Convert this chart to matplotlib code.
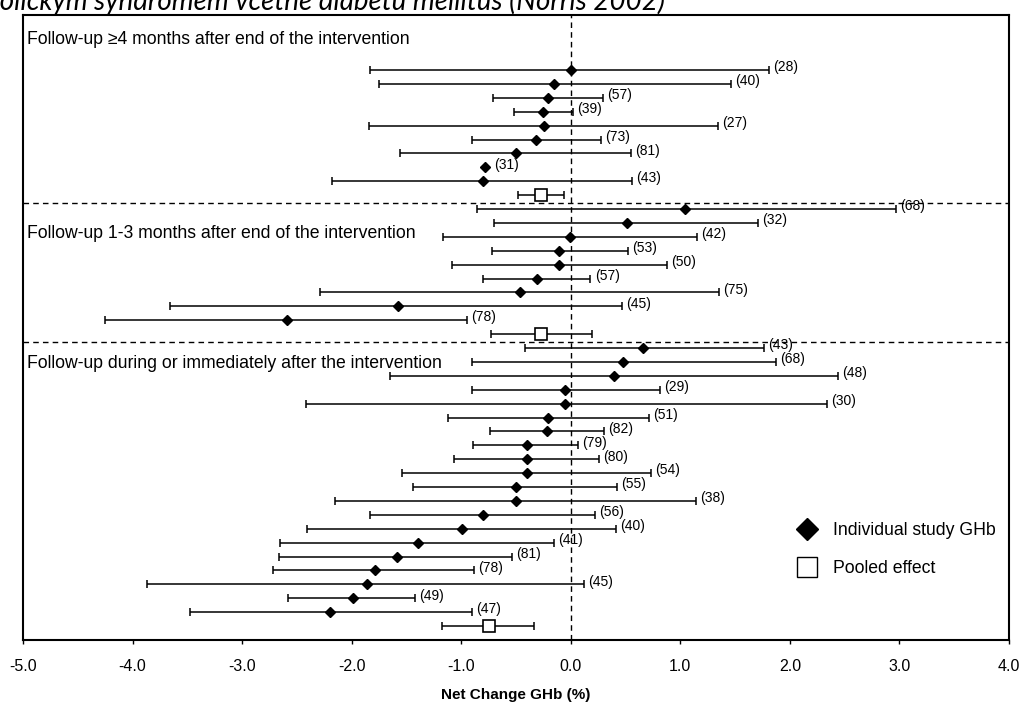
import matplotlib
matplotlib.use("Agg")
import matplotlib.pyplot as plt
from matplotlib.lines import Line2D

plt.rcParams["font.family"] = ["Liberation Sans", "DejaVu Sans"]

# --- Follow-up >= 4 months after end of the intervention ---
late_n = ["(28)", "(40)", "(57)", "(39)", "(27)", "(73)", "(81)", "(31)", "(43)"]
late_mean = [0.00, -0.15, -0.21, -0.25, -0.24, -0.32, -0.50, -0.78, -0.80]
late_low = [-1.83, -1.75, -0.71, -0.52, -1.84, -0.90, -1.56, -0.78, -2.18]
late_high = [1.81, 1.46, 0.29, 0.02, 1.34, 0.28, 0.55, -0.78, 0.56]
late_pooled = (-0.27, -0.48, -0.06)

# --- Follow-up 1-3 months after end of the intervention ---
mid_n = ["(68)", "(32)", "(42)", "(53)", "(50)", "(57)", "(75)", "(45)", "(78)"]
mid_mean = [1.04, 0.51, -0.01, -0.11, -0.11, -0.31, -0.46, -1.58, -2.59]
mid_low = [-0.86, -0.70, -1.17, -0.72, -1.08, -0.80, -2.29, -3.66, -4.25]
mid_high = [2.97, 1.71, 1.15, 0.52, 0.88, 0.18, 1.35, 0.47, -0.95]
mid_pooled = (-0.27, -0.73, 0.19)

# --- Follow-up during or immediately after the intervention ---
early_n = ["(43)", "(68)", "(48)", "(29)", "(30)", "(51)", "(82)", "(79)", "(80)", "(54)",
           "(55)", "(38)", "(56)", "(40)", "(41)", "(81)", "(78)", "(45)", "(49)", "(47)"]
early_mean = [0.66, 0.48, 0.39, -0.05, -0.05, -0.21, -0.22, -0.40, -0.40, -0.40,
              -0.50, -0.50, -0.80, -0.99, -1.39, -1.59, -1.79, -1.86, -1.99, -2.20]
early_low = [-0.42, -0.90, -1.65, -0.90, -2.42, -1.12, -0.74, -0.89, -1.07, -1.54,
             -1.44, -2.15, -1.83, -2.41, -2.65, -2.66, -2.72, -3.87, -2.58, -3.48]
early_high = [1.76, 1.87, 2.44, 0.81, 2.34, 0.71, 0.30, 0.07, 0.26, 0.73,
              0.42, 1.14, 0.22, 0.41, -0.15, -0.54, -0.88, 0.12, -1.42, -0.90]
early_pooled = (-0.75, -1.18, -0.34)

section_titles = [
    "Follow-up \u22654 months after end of the intervention",
    "Follow-up 1-3 months after end of the intervention",
    "Follow-up during or immediately after the intervention",
]
x_ticks = [-5.0, -4.0, -3.0, -2.0, -1.0, 0.0, 1.0, 2.0, 3.0, 4.0]

sections = [
    (late_n, late_mean, late_low, late_high, late_pooled),
    (mid_n, mid_mean, mid_low, mid_high, mid_pooled),
    (early_n, early_mean, early_low, early_high, early_pooled),
]
title_rows = [-2.23, 11.73, 21.08]

fig = plt.figure(figsize=(10.31, 7.02), dpi=100)
ax = fig.add_axes([23 / 1031, 1 - 640 / 702, 986 / 1031, 625 / 702])

row = 0
for (labels, mean, low, high, pooled), title, ty in zip(sections, section_titles, title_rows):
    ys = list(range(row, row + len(mean)))
    xerr = [[m - lo for m, lo in zip(mean, low)], [hi - m for m, hi in zip(mean, high)]]
    ax.errorbar(mean, ys, xerr=xerr, fmt="none", ecolor="black", elinewidth=1.1,
                capsize=3, capthick=1.1, zorder=3)
    ax.plot(mean, ys, linestyle="none", marker="D", markersize=5.5,
            color="black", zorder=4)
    for lab, m, hi, y in zip(labels, mean, high, ys):
        ax.annotate(lab, (max(hi, m), y), xytext=(3 if hi > m else 6, 2),
                    textcoords="offset points", ha="left", va="center", fontsize=10)
    py = row + len(mean)
    pm, plo, phi = pooled
    ax.errorbar([pm], [py], xerr=[[pm - plo], [phi - pm]], fmt="none", ecolor="black",
                elinewidth=1.1, capsize=3, capthick=1.1, zorder=3)
    ax.plot([pm], [py], linestyle="none", marker="s", markersize=9,
            markerfacecolor="white", markeredgecolor="black", markeredgewidth=1.2, zorder=4)
    ax.text(0.004, ty, title, transform=ax.get_yaxis_transform(), ha="left",
            va="center", fontsize=12.7)
    if py < 40:
        ax.axhline(py + 0.55, color="black", linestyle=(0, (4, 3)), linewidth=1.0, zorder=2)
    row = py + 1

ax.axvline(0, color="black", linestyle=(0, (4, 3)), linewidth=1.0, zorder=2)

ax.set_xlim(-5, 4)
ax.set_ylim(41.0, -3.96)
ax.set_xticks(x_ticks)
ax.set_xticklabels([f"{t:.1f}" for t in x_ticks])
ax.tick_params(axis="x", direction="out", length=3, width=1, pad=11, labelsize=11.5)
ax.set_yticks([])
for s in ax.spines.values():
    s.set_linewidth(1.5)
ax.set_xlabel("Net Change GHb (%)", fontsize=11, fontweight="bold", labelpad=10)

handles = [
    Line2D([], [], linestyle="none", marker="D", markersize=11.5, color="black"),
    Line2D([], [], linestyle="none", marker="s", markersize=14,
           markerfacecolor="white", markeredgecolor="black", markeredgewidth=1.0),
]
ax.legend(handles, ["Individual study GHb", "Pooled effect"], loc="center left",
          bbox_to_anchor=(0.7875, 0.1448), frameon=False, fontsize=12.7,
          handlelength=0.9, handletextpad=1.0, labelspacing=1.2,
          borderpad=0, borderaxespad=0)

fig.text(665 / 1031, 1 - 10 / 702,
         "metabolickým syndromem včetně diabetu mellitus (Norris 2002)",
         ha="right", va="baseline", fontsize=20, style="italic",
         family=["Lato", "DejaVu Sans"])

fig.savefig("out.png", dpi=100)
